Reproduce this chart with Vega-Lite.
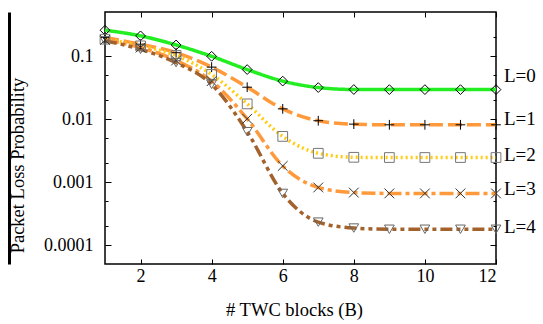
{
  "$schema": "https://vega.github.io/schema/vega-lite/v6.json",
  "width": 391,
  "height": 252,
  "autosize": {"type": "none"},
  "padding": {"left": 105, "top": 12, "right": 47, "bottom": 60},
  "background": "white",
  "config": {
    "view": {"stroke": "black", "strokeWidth": 1.5},
    "axis": {"domain": false, "grid": false, "labelFont": "Liberation Serif", "labelFontSize": 18, "labelColor": "black", "tickColor": "black", "tickWidth": 1, "titleFont": "Liberation Serif", "titleFontSize": 18.5, "titleFontWeight": "normal", "titleColor": "black"}
  },
  "datasets": {
    "curves": [
      {"B": 1, "L": "L=0", "p": 0.257}, {"B": 2, "L": "L=0", "p": 0.209}, {"B": 3, "L": "L=0", "p": 0.15}, {"B": 4, "L": "L=0", "p": 0.099}, {"B": 5, "L": "L=0", "p": 0.061}, {"B": 6, "L": "L=0", "p": 0.040}, {"B": 7, "L": "L=0", "p": 0.0316}, {"B": 8, "L": "L=0", "p": 0.0294}, {"B": 9, "L": "L=0", "p": 0.0293}, {"B": 10, "L": "L=0", "p": 0.0293}, {"B": 11, "L": "L=0", "p": 0.0293}, {"B": 12, "L": "L=0", "p": 0.0293},
      {"B": 1, "L": "L=1", "p": 0.197}, {"B": 2, "L": "L=1", "p": 0.154}, {"B": 3, "L": "L=1", "p": 0.113}, {"B": 4, "L": "L=1", "p": 0.0667}, {"B": 5, "L": "L=1", "p": 0.032}, {"B": 6, "L": "L=1", "p": 0.0145}, {"B": 7, "L": "L=1", "p": 0.0094}, {"B": 8, "L": "L=1", "p": 0.0083}, {"B": 9, "L": "L=1", "p": 0.0081}, {"B": 10, "L": "L=1", "p": 0.0081}, {"B": 11, "L": "L=1", "p": 0.0081}, {"B": 12, "L": "L=1", "p": 0.0081},
      {"B": 1, "L": "L=2", "p": 0.185}, {"B": 2, "L": "L=2", "p": 0.145}, {"B": 3, "L": "L=2", "p": 0.102}, {"B": 4, "L": "L=2", "p": 0.051}, {"B": 5, "L": "L=2", "p": 0.0174}, {"B": 6, "L": "L=2", "p": 0.0053}, {"B": 7, "L": "L=2", "p": 0.00286}, {"B": 8, "L": "L=2", "p": 0.00247}, {"B": 9, "L": "L=2", "p": 0.00245}, {"B": 10, "L": "L=2", "p": 0.00245}, {"B": 11, "L": "L=2", "p": 0.00245}, {"B": 12, "L": "L=2", "p": 0.00245},
      {"B": 1, "L": "L=3", "p": 0.18}, {"B": 2, "L": "L=3", "p": 0.136}, {"B": 3, "L": "L=3", "p": 0.085}, {"B": 4, "L": "L=3", "p": 0.040}, {"B": 5, "L": "L=3", "p": 0.0101}, {"B": 6, "L": "L=3", "p": 0.0018}, {"B": 7, "L": "L=3", "p": 0.00082}, {"B": 8, "L": "L=3", "p": 0.00068}, {"B": 9, "L": "L=3", "p": 0.00066}, {"B": 10, "L": "L=3", "p": 0.00066}, {"B": 11, "L": "L=3", "p": 0.00066}, {"B": 12, "L": "L=3", "p": 0.00066},
      {"B": 1, "L": "L=4", "p": 0.174}, {"B": 2, "L": "L=4", "p": 0.128}, {"B": 3, "L": "L=4", "p": 0.0785}, {"B": 4, "L": "L=4", "p": 0.0355}, {"B": 5, "L": "L=4", "p": 0.0063}, {"B": 6, "L": "L=4", "p": 0.00066}, {"B": 7, "L": "L=4", "p": 0.000231}, {"B": 8, "L": "L=4", "p": 0.000186}, {"B": 9, "L": "L=4", "p": 0.000178}, {"B": 10, "L": "L=4", "p": 0.000178}, {"B": 11, "L": "L=4", "p": 0.000178}, {"B": 12, "L": "L=4", "p": 0.000178}
    ],
    "labels": [
      {"B": 12, "L": "L=0", "p": 0.0474},
      {"B": 12, "L": "L=1", "p": 0.0101},
      {"B": 12, "L": "L=2", "p": 0.0027},
      {"B": 12, "L": "L=3", "p": 0.00078},
      {"B": 12, "L": "L=4", "p": 0.00019}
    ],
    "dummy": [{"a": 1}]
  },
  "resolve": {"scale": {"x": "independent", "y": "independent"}},
  "layer": [
    {
      "data": {"name": "curves"},
      "mark": {"type": "line", "interpolate": "monotone", "strokeWidth": 3.5},
      "encoding": {
        "x": {"field": "B", "type": "quantitative", "scale": {"domain": [1, 12], "nice": false, "zero": false},
          "axis": {"values": [2, 4, 6, 8, 10, 12], "tickSize": -5, "labelPadding": 8, "title": "# TWC blocks (B)", "titleX": 189, "titleY": 36}},
        "y": {"field": "p", "type": "quantitative", "scale": {"type": "log", "domain": [0.00005, 0.5], "nice": false},
          "axis": {"values": [0.1, 0.01, 0.001, 0.0001], "format": "~g", "tickSize": -6, "labelPadding": 18, "title": "Packet Loss Probability", "titleX": -78, "titleY": 153}},
        "color": {"field": "L", "type": "nominal", "scale": {"domain": ["L=0", "L=1", "L=2", "L=3", "L=4"], "range": ["#22ee22", "#ff9a3c", "#ffcc11", "#ff9a3c", "#a3622c"]}, "legend": null},
        "strokeDash": {"field": "L", "type": "nominal", "scale": {"domain": ["L=0", "L=1", "L=2", "L=3", "L=4"], "range": [[1, 0], [14, 5], [2, 3], [14, 4, 4, 4], [12, 4, 4, 4, 4, 4]]}, "legend": null}
      }
    },
    {
      "data": {"name": "curves"},
      "mark": {"type": "point", "filled": false, "strokeWidth": 1, "size": 95, "opacity": 1},
      "encoding": {
        "x": {"field": "B", "type": "quantitative", "scale": {"domain": [1, 12], "nice": false, "zero": false}, "axis": null},
        "y": {"field": "p", "type": "quantitative", "scale": {"type": "log", "domain": [0.00005, 0.5], "nice": false}, "axis": null},
        "shape": {"field": "L", "type": "nominal", "scale": {"domain": ["L=0", "L=1", "L=2", "L=3", "L=4"], "range": ["diamond", "M-1,0L1,0M0,-1L0,1", "square", "M-1,-1L1,1M-1,1L1,-1", "triangle-down"]}, "legend": null},
        "stroke": {"field": "L", "type": "nominal", "scale": {"domain": ["L=0", "L=1", "L=2", "L=3", "L=4"], "range": ["#000000", "#000000", "#777777", "#333333", "#666666"]}, "legend": null}
      }
    },
    {
      "data": {"name": "labels"},
      "mark": {"type": "text", "align": "left", "baseline": "middle", "dx": 8, "font": "Liberation Serif", "fontSize": 19, "color": "black"},
      "encoding": {
        "x": {"field": "B", "type": "quantitative", "scale": {"domain": [1, 12], "nice": false, "zero": false}, "axis": null},
        "y": {"field": "p", "type": "quantitative", "scale": {"type": "log", "domain": [0.00005, 0.5], "nice": false}, "axis": null},
        "text": {"field": "L"}
      }
    },
    {
      "data": {"name": "dummy"},
      "mark": {"type": "point", "opacity": 0},
      "encoding": {
        "x": {"datum": 6, "type": "quantitative", "scale": {"domain": [1, 12], "nice": false, "zero": false},
          "axis": {"orient": "top", "values": [2, 4, 6, 8, 10, 12], "tickSize": -5, "labels": false, "title": null}},
        "y": {"datum": 0.01, "type": "quantitative", "scale": {"type": "log", "domain": [0.00005, 0.5], "nice": false},
          "axis": {"orient": "right", "values": [0.1, 0.01, 0.001, 0.0001], "tickSize": -6, "labels": false, "title": null}}
      }
    },
    {
      "data": {"name": "dummy"},
      "mark": {"type": "point", "opacity": 0},
      "encoding": {
        "y": {"datum": 0.01, "type": "quantitative", "scale": {"type": "log", "domain": [0.00005, 0.5], "nice": false},
          "axis": {"orient": "left", "values": [0.2, 0.05, 0.02, 0.005, 0.002, 0.0005, 0.0002], "tickSize": -3, "labels": false, "title": null}}
      }
    },
    {
      "data": {"name": "dummy"},
      "mark": {"type": "point", "opacity": 0},
      "encoding": {
        "y": {"datum": 0.01, "type": "quantitative", "scale": {"type": "log", "domain": [0.00005, 0.5], "nice": false},
          "axis": {"orient": "right", "values": [0.2, 0.05, 0.02, 0.005, 0.002, 0.0005, 0.0002], "tickSize": -3, "labels": false, "title": null}}
      }
    },
    {
      "data": {"name": "dummy"},
      "mark": {"type": "point", "opacity": 0},
      "encoding": {
        "y": {"datum": 0.01, "type": "quantitative", "scale": {"type": "log", "domain": [0.00005, 0.5], "nice": false},
          "axis": {"orient": "left", "offset": 96, "domain": true, "domainWidth": 3, "domainColor": "black", "ticks": false, "labels": false, "title": null}}
      }
    }
  ]
}
